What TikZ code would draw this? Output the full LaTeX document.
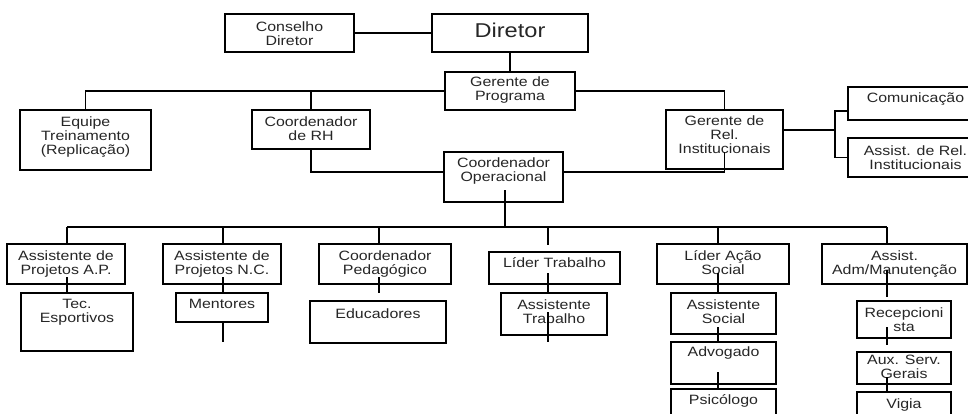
\documentclass[tikz,border=0pt]{standalone}
\usepackage{fontspec}
\setmainfont{Liberation Sans}[FakeStretch=1.18]
\usetikzlibrary{calc}
% \B{name}{left}{top}{right}{bottom}{first baseline offset}{text}
\newcommand{\B}[7]{\node[box] (#1) at ({(#2+#4)/2},{(#3+#5)/2}) {\parbox[c][\dimexpr #5pt-#3pt\relax][t]{\dimexpr #4pt-#2pt\relax}{\centering\rule{0pt}{#6pt}#7}};}
\begin{document}
\begin{tikzpicture}[x=1pt,y=-1pt,
  box/.style={draw=black, line width=1.6pt, inner sep=0pt, outer sep=0pt, text=black!85,
    font=\fontsize{13.5}{14}\selectfont},
  conn/.style={draw=black, line width=1.6pt}]
\useasboundingbox (0,0) rectangle (968,413);
\fill[white] (0,0) rectangle (968,413);

% top
\B{consel}{225}{14}{354}{52}{17}{Conselho\\Diretor}
\B{diretor}{432}{14}{588}{52}{23}{{\fontsize{20}{22}\selectfont Diretor}}
\B{gerprog}{445}{72}{575}{110}{14}{Gerente de\\Programa}
\B{equipe}{20}{110}{151}{170}{16}{Equipe\\Treinamento\\(Replicação)}
\B{coordrh}{252}{110}{370}{149}{16}{Coordenador\\de RH}
\B{coordop}{444}{152}{563}{202}{15}{Coordenador\\Operacional}
\B{gerrel}{666}{110}{783}{169}{15}{Gerente de\\Rel.\\Institucionais}
\B{comun}{848}{87}{983}{120}{15}{Comunicação}
\B{assrel}{848}{138}{983}{177}{17}{Assist. de Rel.\\Institucionais}

% bottom row
\B{aap}{7}{244}{125}{284}{16}{Assistente de\\Projetos A.P.}
\B{tec}{21}{293}{133}{351}{15}{Tec.\\Esportivos}
\B{anc}{163}{244}{281}{284}{16}{Assistente de\\Projetos N.C.}
\B{ment}{176}{293}{268}{322}{15}{Mentores}
\B{cped}{319}{244}{451}{284}{16}{Coordenador\\Pedagógico}
\B{educ}{310}{301}{446}{343}{17}{Educadores}
\B{ltrab}{489}{252}{620}{284}{15}{Líder Trabalho}
\B{atrab}{501}{293}{607}{335}{16}{Assistente\\Trabalho}
\B{lacao}{657}{244}{789}{284}{16}{Líder Ação\\Social}
\B{asoc}{671}{293}{776}{334}{16}{Assistente\\Social}
\B{advog}{671}{342}{776}{384}{14}{Advogado}
\B{psico}{671}{389}{776}{430}{15}{Psicólogo}
\B{aadm}{822}{244}{967}{284}{16}{Assist.\\Adm/Manutenção}
\B{recep}{857}{301}{951}{338}{16}{Recepcioni\\sta}
\B{aux}{857}{352}{951}{384}{12}{Aux. Serv.\\Gerais}
\B{vigia}{857}{392}{951}{430}{16}{Vigia}

% top connectors
\draw[conn] (consel) -- (diretor);
\draw[conn] (diretor.south) -- (gerprog.north);
\draw[conn] (gerprog.west) -| (equipe.north);
\draw[conn] (gerprog.west -| coordrh.north) -- (coordrh.north);
\draw[conn] (gerprog.east) -| (gerrel.north);
\draw[conn] (coordrh.south) |- ([yshift=5pt]coordop.west);
\draw[conn] ([yshift=5pt]coordop.east) -| ([yshift=17pt]gerrel.south);
\coordinate (relbus) at (835,130);
\draw[conn] ([yshift=9.5pt]gerrel.east) -- (relbus);
\draw[conn] (relbus) |- ([yshift=-7.5pt]comun.west);
\draw[conn] (relbus) |- (assrel.west);

% bus
\coordinate (c0) at (505,227);
\coordinate (c1) at (67,227);
\coordinate (c2) at (223,227);
\coordinate (c3) at (379,227);
\coordinate (c4) at (548,227);
\coordinate (c5) at (718,227);
\coordinate (c6) at (887,227);
\draw[conn] ($(c0|-coordop.south)+(0,-12)$) -- (c0);
\draw[conn] (c1) -- (c6);
\draw[conn] (c1) -- (c1|-aap.north);
\draw[conn] (c2) -- (c2|-anc.north);
\draw[conn] (c3) -- (c3|-cped.north);
\draw[conn] (c4) -- ++(0,18);
\draw[conn] (c5) -- (c5|-lacao.north);
\draw[conn] (c6) -- (c6|-aadm.north);

% column connectors
\draw[conn] ($(c1|-aap.south)+(0,-7)$) -- (c1|-tec.north);
\draw[conn] ($(c2|-anc.south)+(0,-7)$) -- (c2|-ment.north);
\draw[conn] (c2|-ment.south) -- ++(0,20);
\draw[conn] ($(c3|-cped.south)+(0,-7)$) -- ++(0,16);
\draw[conn] ($(c4|-ltrab.south)+(0,-11)$) -- (c4|-atrab.north);
\draw[conn] ($(c4|-atrab.south)+(0,-23)$) -- ++(0,30);
\draw[conn] ($(c5|-lacao.south)+(0,-11)$) -- (c5|-asoc.north);
\draw[conn] ($(c5|-asoc.south)+(0,-7)$) -- (c5|-advog.north);
\draw[conn] ($(c5|-advog.south)+(0,-12)$) -- (c5|-psico.north);
\draw[conn] ($(c6|-aadm.south)+(0,-14)$) -- ++(0,27);
\draw[conn] ($(c6|-recep.south)+(0,-11)$) -- ++(0,18);
\draw[conn] ($(c6|-aux.south)+(0,-7)$) -- (c6|-vigia.north);
\end{tikzpicture}
\end{document}
